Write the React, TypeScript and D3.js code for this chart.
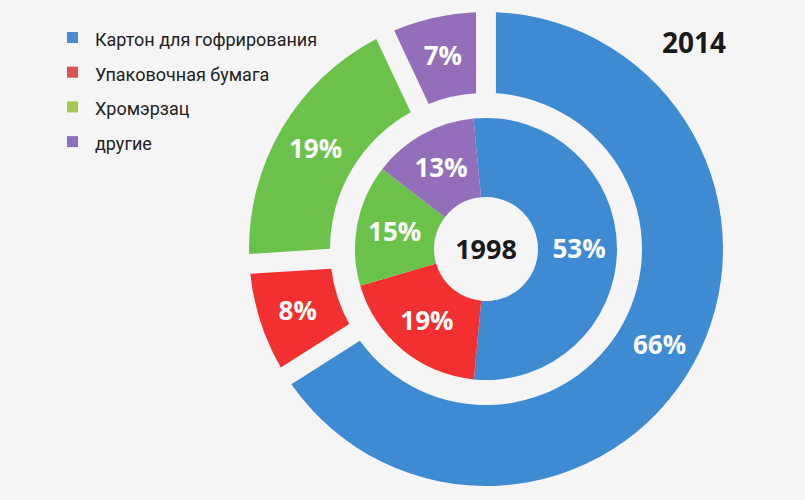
import React from "react";
import * as d3 from "d3";

if (typeof document !== "undefined") {
  document.body.style.margin = "0";
}

const categories = ["Картон для гофрирования", "Упаковочная бумага", "Хромэрзац", "другие"];
const values2014 = [66, 8, 19, 7];
const values1998 = [53, 19, 15, 13];
const sliceColors = ["#3f8bd3", "#f2302f", "#6bc24a", "#936fbb"];
const legendColors = ["#4a8cd2", "#d9534f", "#a4c84e", "#8e6fbf"];
const outerTitle = "2014";
const innerTitle = "1998";

const W = 805;
const H = 500;
const cx = 486;
const cy = 249;

export default function App() {
  const outerPie = d3
    .pie<number>()
    .sort(null)
    .value((d) => d)
    .startAngle(0)
    .endAngle(2 * Math.PI);
  const innerOffset = (-5.5 * Math.PI) / 180;
  const innerPie = d3
    .pie<number>()
    .sort(null)
    .value((d) => d)
    .startAngle(innerOffset)
    .endAngle(2 * Math.PI + innerOffset);

  const outerArcs = outerPie(values2014);
  const innerArcs = innerPie(values1998);

  const outerArc = d3
    .arc<d3.PieArcDatum<number>>()
    .innerRadius(156)
    .outerRadius(237)
    .padAngle(0.07);
  const innerArc = d3
    .arc<d3.PieArcDatum<number>>()
    .innerRadius(52)
    .outerRadius(131);
  const outerLabelArc = d3
    .arc<d3.PieArcDatum<number>>()
    .innerRadius(198)
    .outerRadius(198);
  const innerLabelArc = d3
    .arc<d3.PieArcDatum<number>>()
    .innerRadius(93)
    .outerRadius(93);

  const font = "'Open Sans', 'DejaVu Sans', sans-serif";
  const legendFont = "Roboto, 'Open Sans', sans-serif";

  return (
    <svg width={W} height={H} style={{ display: "block", background: "#f5f5f5" }}>
      <rect x={0} y={0} width={W} height={H} fill="#f5f5f5" />
      <g transform={`translate(${cx},${cy})`}>
        {outerArcs.map((a, i) => (
          <path key={"o" + i} d={outerArc(a) || ""} fill={sliceColors[i]} />
        ))}
        {innerArcs.map((a, i) => (
          <path key={"i" + i} d={innerArc(a) || ""} fill={sliceColors[i]} />
        ))}
        {outerArcs.map((a, i) => {
          const [x, y] = outerLabelArc.centroid(a);
          return (
            <text
              key={"ol" + i}
              x={x}
              y={y}
              dy="0.36em"
              textAnchor="middle"
              fill="#ffffff"
              fontFamily={font}
              fontWeight={700}
              fontSize={26}
            >
              {values2014[i] + "%"}
            </text>
          );
        })}
        {innerArcs.map((a, i) => {
          const [x, y] = innerLabelArc.centroid(a);
          return (
            <text
              key={"il" + i}
              x={x}
              y={y}
              dy="0.36em"
              textAnchor="middle"
              fill="#ffffff"
              fontFamily={font}
              fontWeight={700}
              fontSize={26}
            >
              {values1998[i] + "%"}
            </text>
          );
        })}
        <text
          x={0}
          y={0}
          dy="0.36em"
          textAnchor="middle"
          fill="#1a1a1a"
          fontFamily={font}
          fontWeight={700}
          fontSize={27}
        >
          {innerTitle}
        </text>
      </g>
      <text
        x={694}
        y={53}
        textAnchor="middle"
        fill="#1a1a1a"
        fontFamily={font}
        fontWeight={700}
        fontSize={28}
      >
        {outerTitle}
      </text>
      <g>
        {categories.map((c, i) => (
          <g key={"lg" + i} transform={`translate(0,${i * 34.7})`}>
            <rect x={67} y={32} width={11} height={11} fill={legendColors[i]} />
            <text x={95} y={46} fill="#222" fontFamily={legendFont} fontSize={18}>
              {c}
            </text>
          </g>
        ))}
      </g>
    </svg>
  );
}
